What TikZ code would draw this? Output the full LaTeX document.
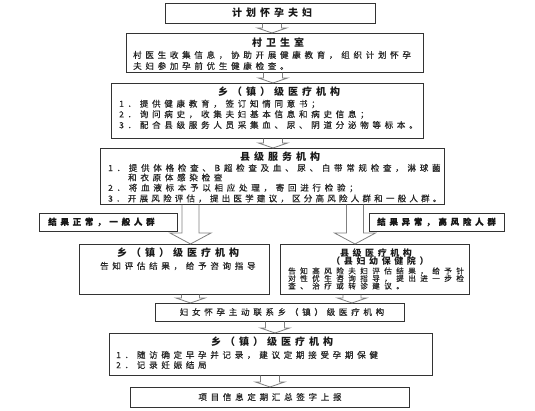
\documentclass[tikz,border=0pt]{standalone}
\usepackage{fontspec}
\setmainfont{Noto Sans CJK SC}
\newfontfamily\bodyf{Noto Sans CJK SC}[LetterSpace=44, FakeBold=0.5]
\newfontfamily\bodyg{Noto Sans CJK SC}[LetterSpace=38, FakeBold=0.5]
\newfontfamily\titlef{Noto Sans CJK SC}[LetterSpace=40]
\newfontfamily\widef{Noto Sans CJK SC}[LetterSpace=58, FakeBold=0.5]
\usetikzlibrary{calc,shadows}
\newcommand\blkarrow[6]{% x, from, to, half shaft, half head, head length
  \draw[blockarr] let \p1=(#2.south), \p2=(#3.north) in
    (#1pt-#4pt,\y1) -- (#1pt-#4pt,\y2+#6pt) -- (#1pt-#5pt,\y2+#6pt) -- (#1pt,\y2)
    -- (#1pt+#5pt,\y2+#6pt) -- (#1pt+#4pt,\y2+#6pt) -- (#1pt+#4pt,\y1);}
\begin{document}
\begin{tikzpicture}[x=1pt,y=-1pt,
  box/.style={draw=black!80, line width=0.7pt, fill=white, inner sep=0pt, anchor=north west,
    drop shadow={shadow xshift=0.9pt, shadow yshift=-0.9pt, fill=black!40, opacity=1}},
  ttl/.style={font=\titlef\bfseries\fontsize{10}{12}\selectfont, inner sep=0pt, text=black!90},
  sttl/.style={font=\titlef\bfseries\fontsize{9}{11}\selectfont, inner sep=0pt, text=black!90},
  bt/.style={font=\bodyf\fontsize{8.5}{10}\selectfont, inner sep=0pt, anchor=west, text=black!85},
  btg/.style={font=\bodyg\fontsize{8.5}{10}\selectfont, inner sep=0pt, anchor=west, text=black!85},
  lbt/.style={font=\bodyf\bfseries\fontsize{8.5}{10}\selectfont, inner sep=0pt, anchor=west, text=black!90},
  wt/.style={font=\widef\fontsize{7.6}{9}\selectfont, inner sep=0pt, anchor=west, text=black!85},
  blockarr/.style={draw=black!50, line width=0.8pt}]
\fill[white] (0,0) rectangle (535,411);
\useasboundingbox (0,0) rectangle (535,411);

% boxes
\node[box, minimum width=210pt, minimum height=20pt] (b1) at (165,3) {};
\node[box, minimum width=297pt, minimum height=39pt] (b2) at (126,33) {};
\node[box, minimum width=312pt, minimum height=55pt] (b3) at (111,83) {};
\node[box, minimum width=344pt, minimum height=56pt] (b4) at (100,148) {};
\node[box, minimum width=138pt, minimum height=18pt] (lL) at (39,213) {};
\node[box, minimum width=135pt, minimum height=18pt] (lR) at (369,213) {};
\node[box, minimum width=190pt, minimum height=50pt] (b5L) at (79,244) {};
\node[box, minimum width=189pt, minimum height=50pt] (b5R) at (280,244) {};
\node[box, minimum width=249pt, minimum height=18pt] (b6) at (155,303) {};
\node[box, minimum width=323pt, minimum height=42pt] (b7) at (109,333) {};
\node[box, minimum width=279pt, minimum height=20pt] (b8) at (130,387) {};

% arrows
\blkarrow{272}{b1}{b2}{9.5}{14.5}{5}
\blkarrow{273}{b2}{b3}{9.5}{14.5}{5}
\blkarrow{273}{b3}{b4}{9.5}{14.5}{5}
\blkarrow{190.5}{b4}{b5L}{8.5}{20.5}{11}
\blkarrow{355}{b4}{b5R}{8.5}{20.5}{11}
\blkarrow{190.5}{b5L}{b6}{9}{14.5}{5}
\blkarrow{352}{b5R}{b6}{9}{14.5}{5}
\blkarrow{275}{b6}{b7}{9.5}{14.5}{5}
\blkarrow{270}{b7}{b8}{9.5}{14.5}{5}

% texts
\node[ttl] (t1) at (272,13) {计划怀孕夫妇};

\node[ttl] (t2) at (278,43) {村卫生室};
\node[bt] (t2a) at (133,55) {村医生收集信息，协助开展健康教育，组织计划怀孕};
\node[bt] (t2b) at (133,66) {夫妇参加孕前优生健康检查。};

\node[ttl] (t3) at (279,92) {乡（镇）级医疗机构};
\node[bt] (t3a) at (119,104) {1．提供健康教育，签订知情同意书；};
\node[bt] (t3b) at (119,114.5) {2．询问病史，收集夫妇基本信息和病史信息；};
\node[bt] (t3c) at (119,125) {3．配合县级服务人员采集血、尿、阴道分泌物等标本。};

\node[ttl] (t4) at (280,157) {县级服务机构};
\node[bt] (t4a) at (108,168) {1．提供体格检查、B超检查及血、尿、白带常规检查，淋球菌};
\node[bt] (t4b) at (128,177.5) {和衣原体感染检查};
\node[bt] (t4c) at (108,188) {2．将血液标本予以相应处理，寄回进行检验；};
\node[btg] (t4d) at (108,198.5) {3．开展风险评估，提出医学建议，区分高风险人群和一般人群。};

\node[lbt] (tl) at (48,222) {结果正常，一般人群};
\node[lbt] (tr) at (377,222) {结果异常，高风险人群};

\node[ttl] (t5) at (178,253) {乡（镇）级医疗机构};
\node[bt] (t5a) at (100,266) {告知评估结果，给予咨询指导};

\node[sttl] (t6) at (376,253) {县级医疗机构};
\node[sttl] (t6s) at (380,261.5) {（县妇幼保健院）};
\node[wt] (t6a) at (288,271) {告知高风险夫妇评估结果，给予针};
\node[wt] (t6b) at (288,278.5) {对性优生咨询指导，提出进一步检};
\node[wt] (t6c) at (288,286) {查、治疗或转诊建议。};

\node[bt, anchor=center] (t7) at (282,312) {妇女怀孕主动联系乡（镇）级医疗机构};

\node[ttl] (t8) at (272,342) {乡（镇）级医疗机构};
\node[bt] (t8a) at (116,355) {1．随访确定早孕并记录，建议定期接受孕期保健};
\node[bt] (t8b) at (116,365) {2．记录妊娠结局};

\node[bt, anchor=center] (t9) at (270,397) {项目信息定期汇总签字上报};
\end{tikzpicture}
\end{document}
